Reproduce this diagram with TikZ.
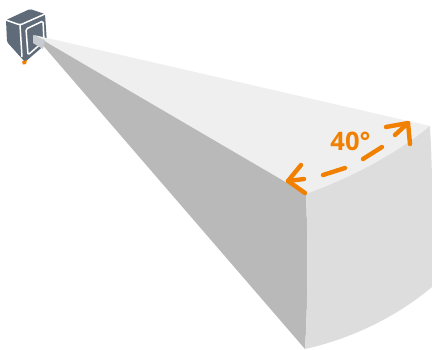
\documentclass[tikz,border=0pt]{standalone}
\usepackage{fontspec}
\setmainfont{Open Sans}
\definecolor{topface}{HTML}{EFEFEF}
\definecolor{sideface}{HTML}{B9B9B9}
\definecolor{frontface}{HTML}{DDDDDD}
\definecolor{cam}{HTML}{5F6B78}
\definecolor{accent}{HTML}{F28000}
\tikzset{
  mark line/.style={draw=accent,line width=4.4pt,line cap=round,line join=round},
  cam line/.style={draw=white,line width=1.5pt,line join=round,rounded corners=1.5pt}
}
\begin{document}
\begin{tikzpicture}[x=1pt,y=-1pt]
\useasboundingbox (0,0) rectangle (432,349);
% camera
\fill[cam,rounded corners=1.5pt] (6,20) -- (30,9) -- (45,14) -- (47,43) -- (25,62) -- (7,42) -- cycle;
\draw[cam line] (6,20) -- (20,25) -- (45,14);
\draw[cam line] (20,25) -- (22,57);
\draw[cam line] (26,29) -- (43,21) -- (44,41) -- (28,55) -- cycle;
\fill[accent] (22,61.5) -- (27,60) -- (26,64) -- (23,64.5) -- cycle;
% frustum
\fill[topface] (34,35) -- (430,126) .. controls (395,155) and (350,178) .. (306,194) -- cycle;
\fill[sideface] (34,35) -- (306,194) .. controls (308,245) and (308,300) .. (305,349) -- cycle;
\fill[frontface] (306,194) .. controls (350,178) and (395,155) .. (430,126)
  .. controls (433,180) and (433,235) .. (432,287)
  .. controls (395,318) and (350,339) .. (305,349)
  .. controls (308,300) and (308,245) .. (306,194) -- cycle;
\fill[white!65!cam] (33,35) -- (45,40) -- (43,49) -- (33,43) -- cycle;
% angle marker
\draw[mark line] (301,165) -- (288,181) -- (305,193);
\draw[mark line] (288,181) -- (304,179);
\draw[mark line] (323,175) -- (345,168);
\draw[mark line] (363,159) -- (382,147);
\draw[mark line] (386,127) -- (408,123) -- (410,144);
\draw[mark line] (395,135) -- (408,123);
\node[text=accent,font=\fontsize{25.5}{26}\selectfont\bfseries,inner sep=0pt] (angle) at (350.5,141) {40°};
\end{tikzpicture}
\end{document}
